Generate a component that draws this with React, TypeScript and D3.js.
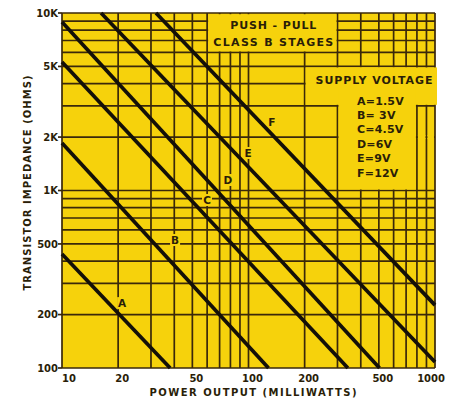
import React from "react";
import * as d3 from "d3";

// ---- data ----
const xGridValues = [10, 20, 30, 40, 50, 60, 70, 80, 90, 100, 200, 300, 400, 500, 600, 700, 800, 900, 1000];
const yGridValues = [100, 200, 300, 400, 500, 600, 700, 800, 900, 1000, 2000, 3000, 4000, 5000, 6000, 7000, 8000, 9000, 10000];
const xTickValues = [10, 20, 50, 100, 200, 500, 1000];
const xTickLabels = ["10", "20", "50", "100", "200", "500", "1000"];
const yTickValues = [100, 200, 500, 1000, 2000, 5000, 10000];
const yTickLabels = ["100", "200", "500", "1K", "2K", "5K", "10K"];

const lineNames = ["A", "B", "C", "D", "E", "F"];
// each line: [powerMw, ohms] start and end
const lineStart: [number, number][] = [[10, 439], [10, 1850], [10, 5300], [10, 8900], [16.2, 10000], [31.9, 10000]];
const lineEnd: [number, number][] = [[38, 100], [128, 100], [341, 100], [504, 100], [1000, 108], [1000, 226]];
const labelPos: [number, number][] = [[21, 232], [40.4, 526], [59.9, 884], [77.6, 1146], [99.4, 1627], [133.6, 2432]];

const legendEntries = ["A=1.5V", "B= 3V", "C=4.5V", "D=6V", "E=9V", "F=12V"];

const YELLOW = "#F6D20C";
const GRID = "#3a280a";
const INK = "#2a1e08";
const FONT = "'DejaVu Sans', sans-serif";

export default function App() {
  const W = 455, H = 401;
  const x = d3.scaleLog().domain([10, 1000]).range([62, 435]);
  const y = d3.scaleLog().domain([100, 10000]).range([368, 13]);
  const line = d3.line<[number, number]>().x(d => x(d[0])).y(d => y(d[1]));

  // masked areas (boxes behind text)
  const masks = [
    { x0: x(60) + 1, x1: x(300) - 1, y0: y(10000) + 1.2, y1: y(6000) - 1 },
    { x0: x(200) + 1, x1: x(1000) + 2, y0: y(5000) + 1, y1: y(3000) - 1 },
    { x0: x(300) + 1, x1: x(800) - 1, y0: y(5000) + 1, y1: y(1000) - 1 },
    { x0: x(800) + 1, x1: x(900) - 1, y0: y(2000) - 2, y1: y(2000) + 2 },
    { x0: x(900) + 1, x1: x(1000) - 1, y0: y(2000) - 2, y1: y(2000) + 2 },
  ];

  return (
    <div style={{ position: "absolute", left: 0, top: 0 }}>
      <svg width={W} height={H} style={{ display: "block", background: "#fff" }}>
        <rect x={x(10)} y={y(10000)} width={x(1000) - x(10)} height={y(100) - y(10000)} fill={YELLOW} />
        {xGridValues.map(v => (
          <line key={"gx" + v} x1={x(v)} x2={x(v)} y1={y(10000)} y2={y(100)} stroke={GRID} strokeWidth={1.7} />
        ))}
        {yGridValues.map(v => (
          <line key={"gy" + v} x1={x(10)} x2={x(1000)} y1={y(v)} y2={y(v)} stroke={GRID} strokeWidth={1.7} />
        ))}
        {yTickValues.map(v => (
          <line key={"ty" + v} x1={x(10) - 4} x2={x(10)} y1={y(v)} y2={y(v)} stroke={GRID} strokeWidth={1.7} />
        ))}
        {masks.map((m, i) => (
          <rect key={"m" + i} x={m.x0} y={m.y0} width={m.x1 - m.x0} height={m.y1 - m.y0} fill={YELLOW} />
        ))}
        {labelPos.map((p, i) => (
          <rect key={"lb" + i} x={x(p[0]) - 5} y={y(p[1]) - 6} width={10} height={12} fill={YELLOW} />
        ))}
        {lineNames.map((n, i) => (
          <path key={"l" + n} d={line([lineStart[i], lineEnd[i]]) || ""} stroke="#141008" strokeWidth={3.7} fill="none" />
        ))}
        {lineNames.map((n, i) => (
          <text key={"lt" + n} x={x(labelPos[i][0])} y={y(labelPos[i][1])} dy="0.36em" textAnchor="middle"
            fontFamily={FONT} fontWeight="bold" fontSize={10.5} fill={INK}>{n}</text>
        ))}
        <text x={(x(60) + x(300)) / 2 + 1} y={29} textAnchor="middle" fontFamily={FONT} fontWeight="bold" fontSize={11}
          fill={INK} textLength={86} lengthAdjust="spacing">PUSH - PULL</text>
        <text x={(x(60) + x(300)) / 2 + 1} y={46} textAnchor="middle" fontFamily={FONT} fontWeight="bold" fontSize={11}
          fill={INK} textLength={120} lengthAdjust="spacing">CLASS B STAGES</text>
        <text x={374} y={84} textAnchor="middle" fontFamily={FONT} fontWeight="bold" fontSize={11}
          fill={INK} textLength={117} lengthAdjust="spacing">SUPPLY VOLTAGE</text>
        {legendEntries.map((t, i) => (
          <text key={"le" + i} x={357} y={104.5 + i * 14.4} fontFamily={FONT} fontWeight="bold" fontSize={11}
            fill={INK} letterSpacing={0.2}>{t}</text>
        ))}
        {yTickValues.map((v, i) => (
          <text key={"yl" + v} x={58} y={y(v)} dy="0.36em" textAnchor="end" fontFamily={FONT} fontWeight="bold"
            fontSize={10} fill={INK}>{yTickLabels[i]}</text>
        ))}
        {xTickValues.map((v, i) => (
          <text key={"xl" + v} x={x(v) + (i === 0 ? 0 : i === xTickValues.length - 1 ? 10 : 4)} y={382}
            textAnchor={i === 0 ? "start" : i === xTickValues.length - 1 ? "end" : "middle"}
            fontFamily={FONT} fontWeight="bold" fontSize={10} fill={INK}>{xTickLabels[i]}</text>
        ))}
        <text x={253} y={396} textAnchor="middle" fontFamily={FONT} fontWeight="bold" fontSize={10}
          fill={INK} textLength={207} lengthAdjust="spacing">POWER OUTPUT (MILLIWATTS)</text>
        <text transform="translate(31,183) rotate(-90)" textAnchor="middle" fontFamily={FONT} fontWeight="bold"
          fontSize={10} fill={INK} textLength={215} lengthAdjust="spacing">TRANSISTOR IMPEDANCE (OHMS)</text>
      </svg>
    </div>
  );
}
